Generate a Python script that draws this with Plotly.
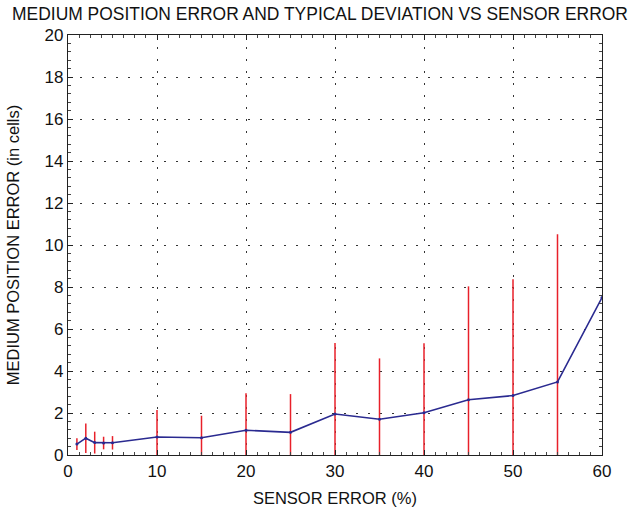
import plotly.graph_objects as go

sensor_error = [1, 2, 3, 4, 5, 10, 15, 20, 25, 30, 35, 40, 45, 50, 55, 60]
mean_error = [0.52, 0.80, 0.59, 0.57, 0.58, 0.86, 0.82, 1.18, 1.08, 1.95, 1.70, 2.01, 2.63, 2.83, 3.48, 7.50]
std_dev = [0.28, 0.70, 0.52, 0.30, 0.32, 1.28, 1.05, 1.76, 1.82, 3.38, 2.90, 3.31, 5.40, 5.54, 7.03, 0.0]

x_ticks = [0, 10, 20, 30, 40, 50, 60]
y_ticks = [0, 2, 4, 6, 8, 10, 12, 14, 16, 18, 20]

font_family = "Liberation Sans, Arial, sans-serif"

fig = go.Figure()

# Error bars (red vertical lines, no caps)
fig.add_trace(go.Scatter(
    x=sensor_error, y=mean_error, mode="markers",
    marker=dict(size=1, color="rgba(0,0,0,0)"),
    error_y=dict(type="data", array=std_dev, symmetric=True,
                 color="#e8202a", thickness=1.5, width=0),
    showlegend=False, hoverinfo="skip",
))

# Mean line
fig.add_trace(go.Scatter(
    x=sensor_error, y=mean_error, mode="lines+markers",
    line=dict(color="#2a2a90", width=1.6),
    marker=dict(size=3, color="#2a2a90"),
    showlegend=False,
))

axis_common = dict(
    showline=True, linecolor="#222", linewidth=1.2, mirror="ticks",
    ticks="inside", ticklen=5, tickcolor="#222",
    showgrid=True, gridcolor="#333", griddash="1.5px,10.5px", gridwidth=1.2,
    zeroline=False, automargin=False,
    tickfont=dict(family=font_family, size=17, color="#111"),
)

fig.update_xaxes(
    range=[0, 60], tickvals=x_ticks,
    title=dict(text="SENSOR ERROR (%)", font=dict(family=font_family, size=16.5, color="#111"), standoff=12),
    minor=dict(ticks="inside", ticklen=3, dtick=1.25, tickcolor="#444", showgrid=False),
    **axis_common,
)
fig.update_yaxes(
    range=[0, 20], tickvals=y_ticks,
    title=dict(text="MEDIUM POSITION ERROR (in cells)", font=dict(family=font_family, size=16.5, color="#111"), standoff=20),
    minor=dict(ticks="inside", ticklen=3, dtick=0.4, tickcolor="#444", showgrid=False),
    **axis_common,
)

fig.update_layout(
    width=630, height=511,
    paper_bgcolor="white", plot_bgcolor="white",
    margin=dict(l=68, r=28, t=35, b=56),
    title=dict(text="MEDIUM POSITION ERROR AND TYPICAL DEVIATION VS SENSOR ERROR",
               x=320 / 630, xanchor="center", y=1 - 13.5 / 511, yanchor="middle",
               font=dict(family=font_family, size=17.45, color="#111")),
)

fig.write_html(
    "out.html",
    config={"displayModeBar": False},
    post_script="document.body.style.margin='0';document.body.style.overflow='hidden';",
)
